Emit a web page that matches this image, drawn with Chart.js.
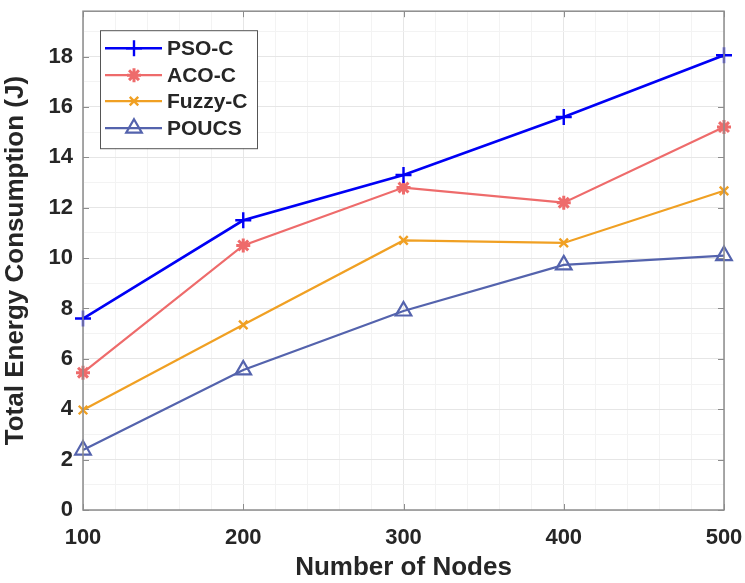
<!DOCTYPE html>
<html>
<head>
<meta charset="utf-8">
<script src="https://cdn.jsdelivr.net/npm/chart.js@4.4.1/dist/chart.umd.min.js"></script>
<style>
html,body{margin:0;padding:0;background:#fff;}
#wrap{position:relative;width:745px;height:583px;}
</style>
</head>
<body>
<div id="wrap"><canvas id="c" width="745" height="583"></canvas></div>
<script>
const nodes = [100, 200, 300, 400, 500];
const psoC = [7.6, 11.5, 13.3, 15.6, 18.05];
const acoC = [5.45, 10.5, 12.8, 12.2, 15.2];
const fuzzyC = [3.97, 7.35, 10.7, 10.6, 12.67];
const poucs = [2.38, 5.56, 7.9, 9.73, 10.1];
const seriesNames = ['PSO-C', 'ACO-C', 'Fuzzy-C', 'POUCS'];
const xTickLabels = [100, 200, 300, 400, 500];
const yTickLabels = [0, 2, 4, 6, 8, 10, 12, 14, 16, 18];

const FONT = "'Liberation Sans', Arial, Helvetica, sans-serif";
const TXT = '#262626';

function pts(vals){ return nodes.map((n,i)=>({x:n, y:vals[i]})); }

const styles = [
  {color:'#0000f5', pointStyle:'cross', radius:8, lw:2.6, pbw:2.4, fill:false},
  {color:'#ee6b6b', pointStyle:'star', radius:7, lw:2.2, pbw:3, fill:false},
  {color:'#f0a023', pointStyle:'crossRot', radius:6, lw:2.2, pbw:2.4, fill:false},
  {color:'#5463ad', pointStyle:'triangle', radius:9, lw:2.2, pbw:2.2, fill:true}
];
const allVals = [psoC, acoC, fuzzyC, poucs];

const datasets = allVals.map((v,i)=>({
  label: seriesNames[i],
  data: pts(v),
  borderColor: styles[i].color,
  backgroundColor: styles[i].fill ? 'rgba(255,255,255,0)' : styles[i].color,
  borderWidth: styles[i].lw,
  pointStyle: styles[i].pointStyle,
  pointRadius: styles[i].radius,
  pointBorderWidth: styles[i].pbw,
  pointBorderColor: styles[i].color,
  pointBackgroundColor: styles[i].fill ? 'rgba(255,255,255,0)' : styles[i].color,
  tension: 0,
  clip: false
}));

function drawMarker(ctx, st, x, y){
  ctx.save();
  ctx.strokeStyle = st.color;
  ctx.fillStyle = st.fill ? 'rgba(255,255,255,0)' : st.color;
  ctx.lineWidth = st.pbw;
  if (Chart.helpers && Chart.helpers.drawPoint) {
    Chart.helpers.drawPoint(ctx, {pointStyle: st.pointStyle, radius: st.radius, rotation: 0, borderWidth: st.pbw}, x, y);
  }
  ctx.restore();
}

const frameAndLegend = {
  id: 'frameAndLegend',
  beforeDatasetsDraw(chart){
    const {ctx, chartArea:a, scales} = chart;
    ctx.save();
    ctx.strokeStyle = '#8c8c8c';
    ctx.lineWidth = 1;
    yTickLabels.forEach(v=>{
      const y = Math.round(scales.y.getPixelForValue(v)) + 0.5;
      ctx.beginPath(); ctx.moveTo(a.left, y); ctx.lineTo(a.left+6, y); ctx.stroke();
      ctx.beginPath(); ctx.moveTo(a.right, y); ctx.lineTo(a.right-6, y); ctx.stroke();
    });
    xTickLabels.forEach(v=>{
      const x = Math.round(scales.x.getPixelForValue(v)) + 0.5;
      ctx.beginPath(); ctx.moveTo(x, a.bottom); ctx.lineTo(x, a.bottom-6); ctx.stroke();
      ctx.beginPath(); ctx.moveTo(x, a.top); ctx.lineTo(x, a.top+6); ctx.stroke();
    });
    ctx.restore();
  },
  afterDraw(chart){
    const {ctx, chartArea:a} = chart;
    ctx.save();
    ctx.strokeStyle = '#8c8c8c';
    ctx.lineWidth = 1.5;
    ctx.strokeRect(a.left, a.top, a.right-a.left, a.bottom-a.top);
    const lx = a.left + 17, ly = a.top + 19, lw = 157, lh = 118;
    ctx.fillStyle = '#ffffff';
    ctx.fillRect(lx, ly, lw, lh);
    ctx.strokeStyle = '#555555';
    ctx.lineWidth = 1;
    ctx.strokeRect(lx+0.5, ly+0.5, lw, lh);
    const rows = [ly+18, ly+45, ly+71, ly+98];
    seriesNames.forEach((name,i)=>{
      const st = styles[i];
      const y = rows[i];
      ctx.strokeStyle = st.color;
      ctx.lineWidth = st.lw;
      ctx.beginPath(); ctx.moveTo(lx+5, y); ctx.lineTo(lx+62, y); ctx.stroke();
      drawMarker(ctx, st, lx+34, y);
      ctx.fillStyle = TXT;
      ctx.font = 'bold 21px ' + FONT;
      ctx.textBaseline = 'middle';
      ctx.textAlign = 'left';
      ctx.fillText(name, lx+67, y+1);
    });
    ctx.restore();
  }
};

new Chart(document.getElementById('c'), {
  type: 'line',
  data: { datasets },
  options: {
    responsive: false,
    animation: false,
    devicePixelRatio: 1,
    layout: { padding: { left: 0, right: 21, top: 10, bottom: 0 } },
    plugins: { legend: { display: false }, tooltip: { enabled: false } },
    scales: {
      x: {
        type: 'linear', min: 100, max: 500,
        afterFit(s){ s.height = 73; s.paddingLeft = 0; s.paddingRight = 0; },
        afterBuildTicks(s){ const t=[]; for(let v=100; v<=500; v+=20) t.push({value:v}); s.ticks=t; },
        grid: {
          drawTicks: false,
          color: c => (c.tick && c.tick.value % 100 === 0) ? '#e6e6e6' : '#f3f3f3',
          lineWidth: 1
        },
        border: { display: false },
        ticks: {
          autoSkip: false, maxRotation: 0, padding: 15, color: TXT,
          font: { family: FONT, size: 22, weight: 'bold' },
          callback: v => (v % 100 === 0) ? String(v) : ''
        },
        title: { display: true, text: 'Number of Nodes', color: TXT, padding: {top: 0, bottom: 0},
          font: { family: FONT, size: 26, weight: 'bold' } }
      },
      y: {
        type: 'linear', min: 0, max: 19.8,
        afterFit(s){ s.width = 83; s.paddingTop = 0; s.paddingBottom = 0; },
        afterBuildTicks(s){ const t=[]; for(let v=0; v<=19; v+=1) t.push({value:v}); s.ticks=t; },
        grid: {
          drawTicks: false,
          color: c => (c.tick && c.tick.value % 2 === 0) ? '#e6e6e6' : '#f3f3f3',
          lineWidth: 1
        },
        border: { display: false },
        ticks: {
          autoSkip: false, padding: 10, color: TXT,
          font: { family: FONT, size: 22, weight: 'bold' },
          callback: v => (v % 2 === 0) ? String(v) : ''
        },
        title: { display: true, text: 'Total Energy Consumption (J)', color: TXT, padding: {top: 0, bottom: 0},
          font: { family: FONT, size: 26, weight: 'bold' } }
      }
    }
  },
  plugins: [frameAndLegend]
});
</script>
</body>
</html>
